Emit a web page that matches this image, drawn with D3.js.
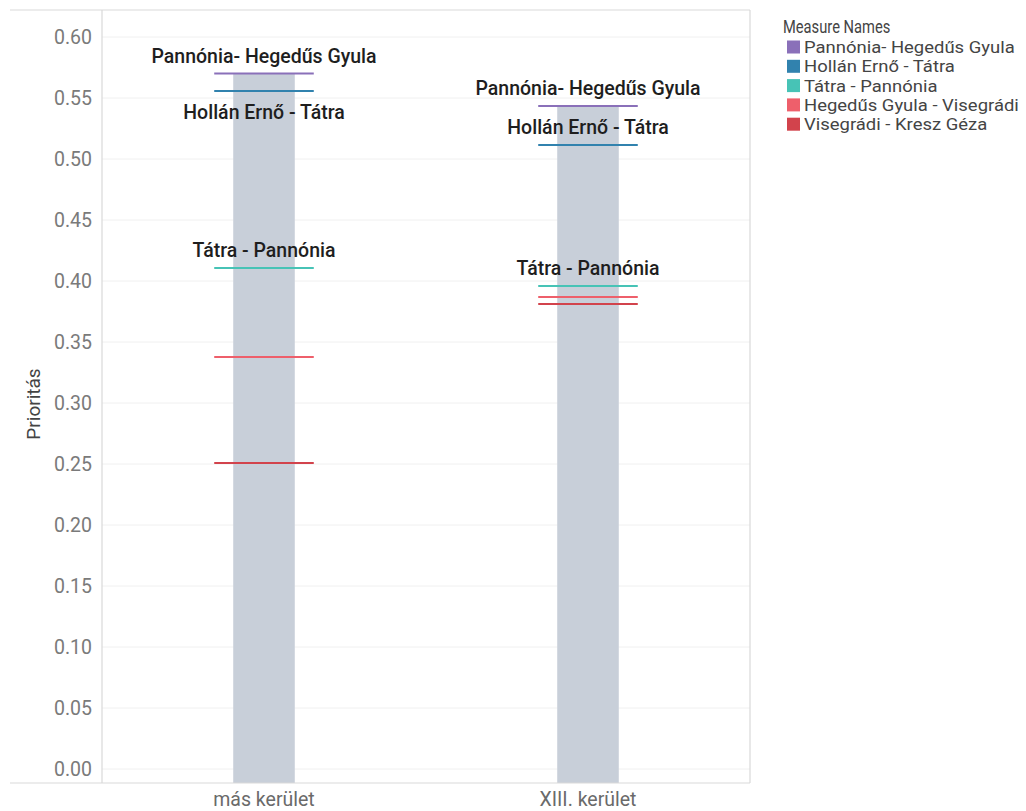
<!DOCTYPE html>
<html><head><meta charset="utf-8">
<script src="https://cdn.jsdelivr.net/npm/d3@7"></script>
<style>body{margin:0;background:#fff;} svg{display:block;font-family:Roboto, "Open Sans", sans-serif;}</style>
</head><body>
<svg id="chart" width="1026" height="811"></svg>
<script>
const categories = ["más kerület", "XIII. kerület"];
const measures = ["Pannónia- Hegedűs Gyula", "Hollán Ernő - Tátra", "Tátra - Pannónia", "Hegedűs Gyula - Visegrádi", "Visegrádi - Kresz Géza"];
const colors = ["#8a70b9", "#3182ae", "#47c3b6", "#ee5f6b", "#d2434c"];
const valuesMas = [0.570, 0.5557, 0.4107, 0.3377, 0.2508];
const valuesXIII = [0.5434, 0.5115, 0.3959, 0.3869, 0.3811];
const barTotals = [0.570, 0.5434];
const yTicks = [0, 0.05, 0.10, 0.15, 0.20, 0.25, 0.30, 0.35, 0.40, 0.45, 0.50, 0.55, 0.60];
// label placement: "above", "below" or null (hidden)
const labelPosMas = ["above", "below", "above", null, null];
const labelPosXIII = ["above", "above", "above", null, null];

const svg = d3.select("#chart");
const L = 102, R = 750, T = 10, B = 783;
const y = d3.scaleLinear().domain([0, 0.6]).range([769, 37]);
const x = d3.scaleBand().domain(categories).range([L, R]).paddingInner(0.81).paddingOuter(0.405);

// gridlines
svg.append("g").selectAll("line").data(yTicks).join("line")
  .attr("x1", L).attr("x2", R).attr("y1", d => y(d)).attr("y2", d => y(d))
  .attr("stroke", "#f0f0f0").attr("stroke-width", 1);

// bars
svg.append("g").selectAll("rect").data(categories).join("rect")
  .attr("x", d => x(d)).attr("width", x.bandwidth())
  .attr("y", (d, i) => y(barTotals[i])).attr("height", (d, i) => y(0) - y(barTotals[i]) + (B - y(0)))
  .attr("fill", "#c8cfd9");

// frame
const frame = svg.append("g").attr("stroke", "#d9d9d9").attr("stroke-width", 1.2).attr("fill", "none");
frame.append("line").attr("x1", 10).attr("x2", R).attr("y1", T).attr("y2", T);
frame.append("line").attr("x1", 10).attr("x2", R).attr("y1", B).attr("y2", B);
frame.append("line").attr("x1", L).attr("x2", L).attr("y1", T).attr("y2", B);
frame.append("line").attr("x1", R).attr("x2", R).attr("y1", T).attr("y2", B);

// y axis
const yAxis = d3.axisLeft(y).tickValues(yTicks).tickFormat(d3.format(".2f")).tickSize(0).tickPadding(10);
const ga = svg.append("g").attr("transform", `translate(${L},0)`).call(yAxis);
ga.select(".domain").remove();
ga.selectAll("text").attr("font-size", 19.5).attr("fill", "#7a7a7a").attr("font-family", "Roboto, sans-serif");

// x axis labels
const xAxis = d3.axisBottom(x).tickSize(0).tickPadding(9);
const gx = svg.append("g").attr("transform", `translate(0,${B})`).call(xAxis);
gx.select(".domain").remove();
gx.selectAll("text").attr("font-size", 19.5).attr("fill", "#6a6a6a").attr("font-family", "Roboto, sans-serif");

// y title
svg.append("text").attr("transform", `translate(40,404) rotate(-90)`)
  .attr("text-anchor", "middle").attr("font-size", 19).attr("fill", "#444").text("Prioritás");

// reference lines
const series = [valuesMas, valuesXIII];
const lblPos = [labelPosMas, labelPosXIII];
const ext = 19;
categories.forEach((c, ci) => {
  const g = svg.append("g");
  const idx = d3.range(measures.length).slice().reverse();
  idx.forEach(mi => {
    const v = series[ci][mi];
    g.append("line")
      .attr("x1", x(c) - ext).attr("x2", x(c) + x.bandwidth() + ext)
      .attr("y1", y(v)).attr("y2", y(v))
      .attr("stroke", colors[mi]).attr("stroke-width", 2);
  });
  measures.forEach((m, mi) => {
    const pos = lblPos[ci][mi];
    if (!pos) return;
    const v = series[ci][mi];
    g.append("text")
      .attr("x", x(c) + x.bandwidth() / 2)
      .attr("y", pos === "above" ? y(v) - 11 : y(v) + 28)
      .attr("text-anchor", "middle").attr("font-size", 19.5).attr("fill", "#1e1e1e")
      .attr("font-family", "Roboto, sans-serif").attr("font-weight", 500)
      .text(m);
  });
});

// legend
const lg = svg.append("g").attr("transform", "translate(783,0)");
lg.append("text").attr("transform", "translate(0,33) scale(0.84,1)").attr("font-size", 17.5).attr("fill", "#444").text("Measure Names");
const items = lg.selectAll("g.item").data(measures).join("g").attr("class", "item")
  .attr("transform", (d, i) => `translate(0,${47 + i * 19.3})`);
items.append("rect").attr("x", 4).attr("y", -6.5).attr("width", 13).attr("height", 13).attr("fill", (d, i) => colors[i]);
items.append("text").attr("transform", "translate(21,6) scale(1.12,1)").attr("font-size", 16.5).attr("fill", "#444").text(d => d);
</script>
</body></html>
